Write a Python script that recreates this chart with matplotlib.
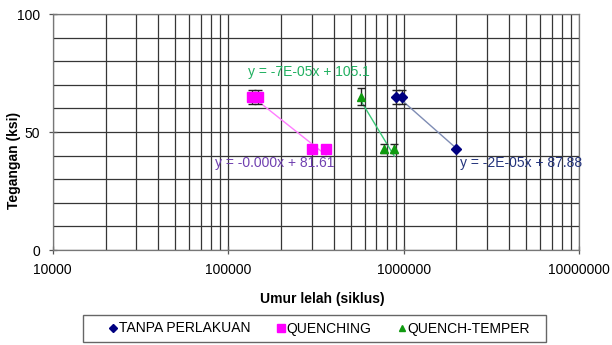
import numpy as np
import matplotlib
matplotlib.use('Agg')
import matplotlib.pyplot as plt
from matplotlib.patches import Rectangle
from matplotlib.ticker import LogLocator, FixedLocator, NullFormatter

plt.rcParams['font.family'] = ['Liberation Sans', 'DejaVu Sans']

# data
x_tanpa = [900000, 980000, 2000000]
y_tanpa = [65, 65, 43]
e_tanpa = [3, 3, 0]

x_quench = [137000, 148000, 301000, 362000]
y_quench = [65, 65, 43, 43]
e_quench = [3, 3, 0, 0]

x_qt = [570000, 777000, 885000]
y_qt = [65, 43, 43]
e_qt = [3.5, 2, 2]

eq_tanpa = 'y = -2E-05x + 87.88'
eq_quench = 'y = -0.000x + 81.61'
eq_qt = 'y = -7E-05x + 105.1'

W, H = 612, 345
fig = plt.figure(figsize=(W / 100, H / 100), dpi=100)
ax = fig.add_axes([52.7 / W, (H - 250) / H, (579 - 52.7) / W, (250 - 14) / H])

ax.set_xscale('log')
ax.set_xlim(1e4, 1e7)
ax.set_ylim(0, 100)

ax.xaxis.set_major_locator(FixedLocator([1e4, 1e5, 1e6, 1e7]))
ax.set_xticklabels(['10000', '100000', '1000000', '10000000'])
ax.xaxis.set_minor_locator(LogLocator(base=10, subs=np.arange(2, 10)))
ax.xaxis.set_minor_formatter(NullFormatter())
ax.set_yticks([0, 50, 100])
ax.yaxis.set_minor_locator(FixedLocator(np.arange(10, 100, 10)))

ax.grid(True, which='both', color='#363636', lw=0.9)
ax.set_axisbelow(True)
ax.tick_params(axis='both', which='major', direction='inout', length=6, width=0.9,
               color='#555555', labelsize=10, pad=6)
ax.tick_params(axis='both', which='minor', length=0)
for s in ax.spines.values():
    s.set_color('#777777')
    s.set_linewidth(0.9)


def trend(x, y, color):
    # linear trendline, drawn between the end points of the series
    b, a = np.polyfit(x, y, 1)
    xs = np.array([min(x), max(x)])
    ax.plot(xs, a + b * xs, color=color, lw=1, zorder=2)


trend(x_tanpa, y_tanpa, '#7e8cb4')
trend(x_quench, y_quench, '#ff7cff')
trend(x_qt, y_qt, '#3cc878')

ax.errorbar(x_tanpa, y_tanpa, yerr=e_tanpa, fmt='D', color='#000080', ms=5,
            ecolor='#222222', elinewidth=1, capsize=3, zorder=3, label='TANPA PERLAKUAN')
ax.errorbar(x_quench, y_quench, yerr=e_quench, fmt='s', color='#ff00ff', ms=7,
            ecolor='#222222', elinewidth=1, capsize=3, zorder=3, label='QUENCHING')
ax.errorbar(x_qt, y_qt, yerr=e_qt, fmt='^', color='#109a10', ms=6,
            ecolor='#222222', elinewidth=1, capsize=3, zorder=3, label='QUENCH-TEMPER')

ax.text(130000, 75.5, eq_qt, color='#20b060', fontsize=10, va='center')
ax.text(84000, 37, eq_quench, color='#7040b0', fontsize=10, va='center')
ax.text(2100000, 37, eq_tanpa, color='#24347c', fontsize=10, va='center')

fig.text(14 / W, 1 - 160 / H, 'Tegangan (ksi)', rotation=90, fontsize=10,
         fontweight='bold', ha='center', va='center')
fig.text(322 / W, 1 - 299 / H, 'Umur lelah (siklus)', fontsize=10,
         fontweight='bold', ha='center', va='center')

# legend box drawn by hand so the padding matches
fig.patches.append(Rectangle((83 / W, 1 - 342 / H), 463 / W, 27 / H,
                             transform=fig.transFigure, fill=False,
                             edgecolor='#666666', lw=1))
handles = [
    plt.Line2D([], [], marker='D', color='#000080', ls='', ms=4),
    plt.Line2D([], [], marker='s', color='#ff00ff', ls='', ms=6),
    plt.Line2D([], [], marker='^', color='#109a10', ls='', ms=5),
]
fig.legend(handles, ['TANPA PERLAKUAN', 'QUENCHING', 'QUENCH-TEMPER'],
           loc='center', bbox_to_anchor=(319.5 / W, 1 - 328.5 / H), ncol=3,
           fontsize=10, frameon=False, handlelength=0.6,
           handletextpad=0.1, columnspacing=1.9, borderpad=0, borderaxespad=0)

fig.savefig('out.png', dpi=100)
